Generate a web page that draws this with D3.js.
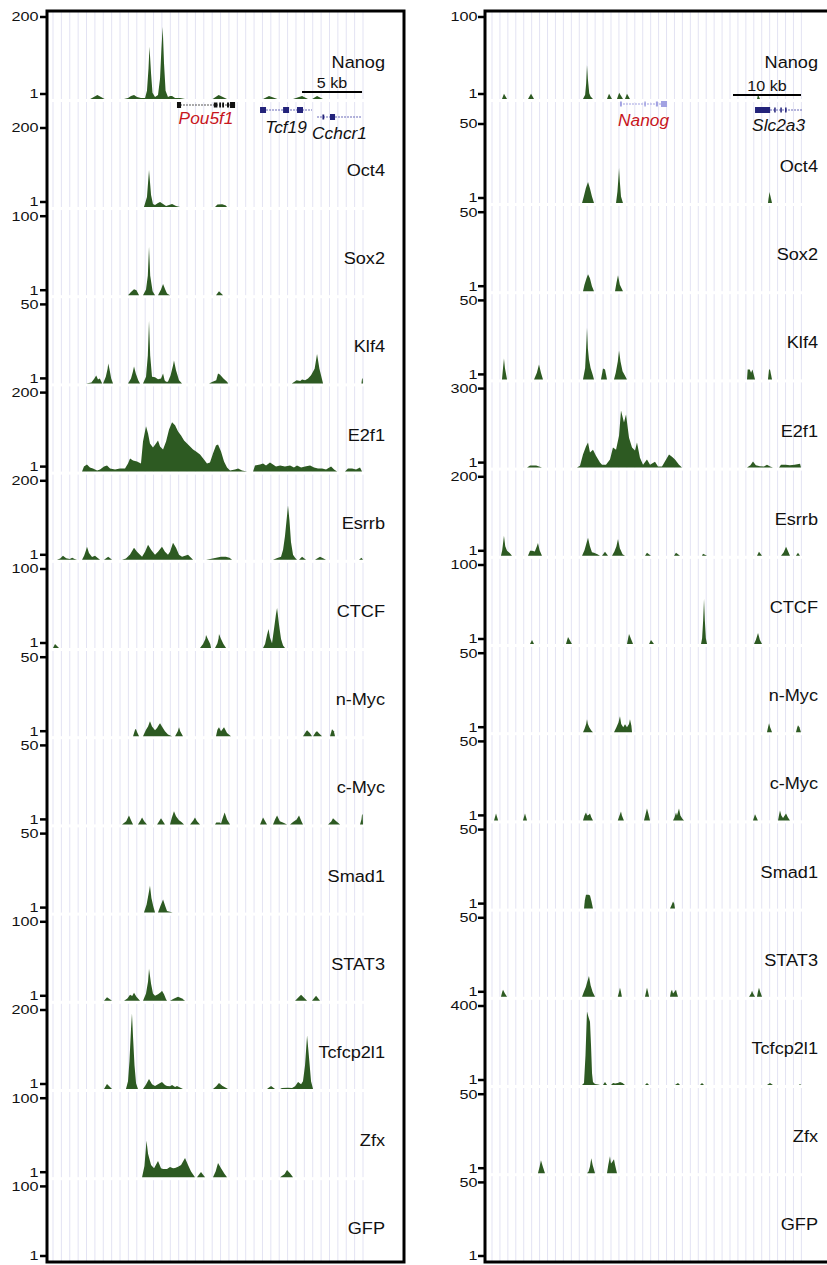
<!DOCTYPE html>
<html><head><meta charset="utf-8">
<script src="https://cdn.jsdelivr.net/npm/d3@7"></script>
<style>
body{margin:0;background:#fff}
svg{display:block}
text{font-family:"Liberation Sans",Arial,Helvetica,sans-serif}
</style>
</head><body>
<svg id="c" width="827" height="1265"></svg>
<script>
// ---------------- DATA ----------------
const trackNames = ["Nanog","Oct4","Sox2","Klf4","E2f1","Esrrb","CTCF","n-Myc","c-Myc","Smad1","STAT3","Tcfcp2l1","Zfx","GFP"];
const leftMax  = [200,200,100,50,200,200,100,50,50,50,100,200,100,100];
const rightMax = [100,50,50,50,300,200,100,50,50,50,50,400,50,50];

// signal segments: [position (kb), read count]
const leftNanog = [
 [[3.1,1],[3.7,11],[4.3,1]],
 [[5.92,1],[6.25,3.5],[6.5,8.5],[6.75,11],[7.0,6],[7.33,3.5],[7.67,3.5],[7.83,21],[7.96,76],[8.04,128],[8.17,63],[8.29,16],[8.5,6],[8.75,11],[8.92,51],[9.04,126],[9.14,176],[9.25,88],[9.38,21],[9.58,6],[9.75,8.5],[9.92,8.5],[10.17,3.5],[10.58,3.5],[11.0,1]],
 [[13.3,1],[13.8,11],[14.5,1]],
 [[17.5,1],[18.0,8],[18.7,1]],
 [[20.0,1],[20.75,8],[21.25,1]],
 [[21.6,1],[22.0,8],[22.5,1]]
];
const leftOct4 = [
 [[7.58,1],[7.83,26],[8.0,93],[8.17,31],[8.33,8.5],[8.5,6],[8.75,11],[8.92,13.5],[9.17,8.5],[9.42,3.5],[9.67,6],[9.92,8.5],[10.25,3.5],[10.58,1]],
 [[13.5,1],[13.7,7],[14.1,8],[14.4,5],[14.5,1]]
];
const leftSox2 = [
 [[6.25,1],[6.5,5],[6.75,8.5],[6.95,7],[7.17,1]],
 [[7.5,1],[7.75,8],[7.9,25],[8.0,61],[8.1,25],[8.3,6],[8.5,1]],
 [[8.75,1],[9.0,8],[9.17,15],[9.35,8],[9.5,3],[9.75,1]],
 [[13.58,1],[13.83,6],[14.17,1]]
];
const leftKlf4 = [
 [[2.75,1],[3.2,1.6],[3.45,4],[3.6,5.9],[3.75,3.4],[3.9,4],[4.1,1]],
 [[4.17,1],[4.4,5],[4.55,10],[4.6,13.2],[4.7,10],[4.85,4],[5.0,1]],
 [[6.25,1],[6.5,4],[6.65,8],[6.75,11.4],[6.9,7],[7.1,3],[7.25,1]],
 [[7.5,1],[7.75,5],[7.9,18],[8.0,39.4],[8.1,18],[8.25,5],[8.5,4.7],[8.75,3.5],[9.0,4],[9.17,7.1],[9.3,3],[9.42,2],[9.58,2],[9.8,6],[10.0,12],[10.08,15],[10.25,9],[10.5,3],[10.75,1]],
 [[13.0,1],[13.3,2],[13.6,3],[13.75,7.1],[13.9,6.5],[14.2,4],[14.5,2],[14.6,1]],
 [[19.9,1],[20.3,3],[20.6,2.5],[20.75,3.4],[21.0,3],[21.25,4],[21.5,6],[21.8,10],[22.0,19],[22.2,10],[22.4,4],[22.5,1]],
 [[25.7,1],[25.75,4],[25.8,4],[25.83,1]]
];
const leftE2f1 = [
 [[2.42,1],[2.58,13.5],[2.83,18.5],[3.08,11],[3.33,8.5],[3.67,3.5],[3.92,6],[4.25,13.5],[4.5,16],[4.75,8.5],[5.17,6],[5.58,8.5],[6.0,8.5],[6.25,21],[6.42,33.5],[6.67,28.5],[7.0,26],[7.33,21],[7.5,76],[7.75,113.5],[7.92,96],[8.08,71],[8.33,61],[8.58,71],[8.75,78.5],[8.92,63.5],[9.17,56],[9.42,76],[9.67,106],[9.92,123.5],[10.17,116],[10.42,101],[10.67,91],[10.92,78.5],[11.17,71],[11.42,63.5],[11.67,56],[11.92,51],[12.25,43.5],[12.58,31],[12.83,21],[13.08,23.5],[13.33,46],[13.58,66],[13.75,68.5],[14.0,51],[14.25,26],[14.5,11],[14.75,3.5],[15.17,6],[15.42,8.5],[15.75,3.5],[16.17,1]],
 [[16.67,1],[16.83,16],[17.25,18.5],[17.5,21],[17.75,16],[18.08,23.5],[18.33,18.5],[18.58,13.5],[18.92,16],[19.33,13.5],[19.75,16],[20.08,11],[20.33,16],[20.67,11],[21.0,13.5],[21.42,16],[21.75,11],[22.08,8.5],[22.42,8.5],[22.75,6],[23.17,13.5],[23.42,6],[23.67,1]],
 [[24.33,1],[24.58,8.5],[24.92,8.5],[25.25,6],[25.58,11],[25.75,1]]
];
const leftEsrrb = [
 [[0.33,1],[0.6,4],[0.83,11],[1.1,5],[1.4,3],[1.6,6],[1.8,3],[2.0,1]],
 [[2.42,1],[2.6,12],[2.75,25],[2.83,33.5],[3.0,18],[3.25,8],[3.5,11],[3.7,6],[3.92,1]],
 [[4.25,1],[4.6,8.5],[4.92,1]],
 [[5.75,1],[6.08,4],[6.42,14],[6.75,31],[7.0,21],[7.42,8.5],[7.67,21],[7.92,38.5],[8.17,26],[8.5,13.5],[8.75,21],[9.08,33.5],[9.33,21],[9.58,13.5],[9.75,21],[10.0,43.5],[10.25,31],[10.5,13.5],[10.75,8.5],[11.0,11],[11.25,13.5],[11.5,6],[11.67,1]],
 [[12.75,1],[13.2,3.5],[13.6,6],[14.0,8.5],[14.4,8.5],[14.7,6],[14.92,1]],
 [[18.33,1],[18.75,6],[19.0,8.5],[19.17,26],[19.33,60],[19.5,111],[19.58,136],[19.7,100],[19.83,45],[20.0,13.5],[20.17,6],[20.33,1]],
 [[20.5,1],[20.75,8.5],[21.08,1]],
 [[21.83,1],[22.25,8.5],[22.75,1]],
 [[25.5,1],[25.7,6],[25.83,1]]
];
const leftCTCF = [
 [[0,1],[0.17,6],[0.5,1]],
 [[12.25,1],[12.5,6],[12.7,12],[12.75,17],[12.9,12],[13.1,6],[13.17,1]],
 [[13.5,1],[13.7,7],[13.8,13],[13.83,18.4],[14.0,12],[14.2,6],[14.42,1]],
 [[17.5,1],[17.67,6],[17.83,17],[17.96,24.6],[18.08,14],[18.25,7],[18.42,25],[18.58,43],[18.67,50.6],[18.83,30],[19.0,12],[19.17,4],[19.33,1]]
];
const leftNMyc = [
 [[6.67,1],[6.85,5.3],[6.92,5.3],[7.0,3.5],[7.17,1]],
 [[7.5,1],[7.75,5],[7.92,7],[8.08,10.2],[8.25,7],[8.5,4.7],[8.67,6],[8.83,8],[8.92,9],[9.08,7],[9.33,4],[9.58,2],[9.92,1]],
 [[10.17,1],[10.4,4],[10.5,6.5],[10.6,4],[10.83,1]],
 [[13.58,1],[13.7,5],[13.83,6.5],[14.0,4],[14.25,6.5],[14.5,3],[14.83,1]],
 [[20.83,1],[21.1,4],[21.17,4.7],[21.4,3],[21.58,1]],
 [[21.67,1],[21.9,3.5],[22.0,4],[22.2,2.5],[22.42,1]],
 [[23.08,1],[23.25,5.3],[23.4,4],[23.5,1]]
];
const leftCMyc = [
 [[5.75,1],[6.1,3],[6.33,6.5],[6.5,3.5],[6.67,1]],
 [[7.08,1],[7.3,3.5],[7.42,5.3],[7.6,3],[7.83,1]],
 [[8.67,1],[8.9,3.5],[9.0,4.7],[9.2,2.5],[9.33,1]],
 [[9.75,1],[9.9,5],[10.08,9],[10.25,6],[10.5,3.5],[10.7,2.5],[10.92,1]],
 [[11.42,1],[11.7,3.5],[11.83,5.3],[12.0,3],[12.25,1]],
 [[13.5,1],[13.6,2.2],[13.9,2.2],[14.0,1.5],[14.1,4],[14.3,8.3],[14.5,4],[14.75,1]],
 [[17.25,1],[17.5,5.3],[17.83,1]],
 [[18.33,1],[18.5,4],[18.67,6.5],[18.9,3],[19.2,2],[19.5,1]],
 [[19.75,1],[20.0,2.5],[20.3,4],[20.5,6.5],[20.7,3],[20.83,1]],
 [[22.92,1],[23.2,3],[23.33,4.7],[23.6,3],[23.92,1]],
 [[25.58,1],[25.7,4],[25.75,7],[25.8,7],[25.83,1]]
];
const leftSmad1 = [
 [[7.58,1],[7.8,6],[7.95,12],[8.08,17.5],[8.2,10],[8.35,5],[8.5,1]],
 [[8.75,1],[8.95,5],[9.17,9],[9.35,5],[9.5,2],[9.97,1]]
];
const leftSTAT3 = [
 [[4.25,1],[4.5,5.3],[4.92,1]],
 [[5.92,1],[6.2,4],[6.42,8.4],[6.6,7],[6.75,10.9],[6.95,6],[7.25,1]],
 [[7.5,1],[7.75,10],[7.92,25],[8.0,40.7],[8.17,22],[8.33,10],[8.5,7.2],[8.75,9],[9.0,12],[9.08,13.4],[9.25,9],[9.42,3],[9.5,1]],
 [[9.75,1],[10.1,4],[10.42,6],[10.75,4],[11.0,1]],
 [[20.17,1],[20.5,6],[20.67,8.4],[20.9,5],[21.17,1]],
 [[21.58,1],[21.92,7.2],[22.25,1]]
];
const leftTcfcp2l1 = [
 [[4.25,1],[4.5,13.4],[4.92,1]],
 [[6.08,1],[6.25,20],[6.37,70],[6.5,150],[6.58,189],[6.67,130],[6.79,60],[6.92,15],[7.08,1]],
 [[7.5,1],[7.75,12],[8.0,25.7],[8.25,13],[8.5,8.4],[8.75,13],[9.08,18.3],[9.33,11],[9.5,8.4],[9.75,8],[9.92,10.9],[10.17,6],[10.33,8.4],[10.58,5],[10.83,1]],
 [[13.33,1],[13.6,8],[13.83,15.8],[14.1,9],[14.4,4],[14.58,1]],
 [[17.83,1],[18.17,8.4],[18.5,1]],
 [[18.92,1],[19.08,3.5],[19.58,4],[19.92,3.5],[20.17,8],[20.42,18.3],[20.67,13],[20.83,20],[21.0,60],[21.17,134],[21.33,80],[21.5,20],[21.67,1]]
];
const leftZfx = [
 [[7.42,1],[7.62,15],[7.79,46],[7.92,30],[8.17,16],[8.42,12],[8.75,21],[9.0,12],[9.17,11],[9.5,11],[9.75,13.5],[10.0,12],[10.17,12.3],[10.42,14],[10.67,16],[11.0,24.8],[11.25,16],[11.5,8],[11.83,1]],
 [[12.0,1],[12.33,7.3],[12.67,1]],
 [[13.33,1],[13.55,8],[13.75,18.5],[14.0,12],[14.3,5],[14.5,1]],
 [[18.92,1],[19.3,5],[19.5,9.8],[19.75,6],[20.0,1]]
];
const leftGFP = [];

const rightNanog = [
 [[1.47,1],[1.76,7.2],[2.21,1]],
 [[5.29,1],[5.74,7.2],[6.18,1]],
 [[13.38,1],[13.7,6],[13.85,20],[13.97,42],[14.1,25],[14.3,8],[14.5,4],[14.85,1]],
 [[16.91,1],[17.21,7.2],[17.65,1]],
 [[18.38,1],[18.7,8.4],[19.26,1]],
 [[19.56,1],[19.85,7.2],[20.29,1]],
 [[38.97,1],[39.12,6],[39.41,1]]
];
const rightOct4 = [
 [[13.24,1],[13.5,5],[13.8,10],[14.12,13.8],[14.4,10],[14.7,5],[15.0,1]],
 [[18.24,1],[18.45,8],[18.6,17],[18.68,22.4],[18.8,14],[18.97,5],[19.26,1]],
 [[40.59,1],[40.8,7.7],[41.18,1]]
];
const rightSox2 = [
 [[13.38,1],[13.6,5],[13.9,9],[14.12,11.4],[14.4,9],[14.7,4],[15.0,1]],
 [[18.09,1],[18.3,6],[18.53,10.8],[18.8,5],[19.26,1]]
];
const rightKlf4 = [
 [[1.47,1],[1.62,8],[1.76,13.8],[1.9,8],[2.21,1]],
 [[6.18,1],[6.6,5],[6.91,10.2],[7.2,5],[7.5,1]],
 [[13.38,1],[13.7,8],[13.9,25],[13.97,32.7],[14.1,20],[14.26,13.2],[14.5,8],[14.8,4],[15.0,1]],
 [[16.03,1],[16.32,7.7],[16.62,7],[16.91,1]],
 [[17.94,1],[18.2,5],[18.5,12],[18.68,18.7],[18.9,12],[19.2,6],[19.6,3],[19.85,1]],
 [[37.5,1],[37.6,7.1],[37.9,7.1],[38.1,5],[38.3,7.1],[38.68,1]],
 [[40.59,1],[40.74,7.1],[40.88,7.1],[41.18,1]]
];
const rightE2f1 = [
 [[5.15,1],[5.6,8.5],[6.5,8.5],[7.35,1]],
 [[12.5,1],[12.94,8],[13.38,50],[13.82,80],[14.12,95],[14.41,57],[14.85,68],[15.29,45],[15.88,20],[16.18,12],[16.76,12],[17.35,31],[17.79,76],[18.24,68],[18.68,120],[18.97,214],[19.41,170],[19.71,199],[20.15,113],[20.59,76],[21.03,65],[21.32,95],[21.76,38],[22.21,12],[22.79,31],[23.24,12],[23.97,23],[24.41,5],[25.0,5],[26.03,50],[26.47,42],[26.91,31],[27.5,12],[27.94,1]],
 [[37.5,1],[38.0,10],[38.38,23.4],[38.8,10],[39.4,6],[40.0,5],[40.44,12],[40.9,5],[41.32,1]],
 [[42.21,1],[42.5,12],[43.2,12],[43.8,10],[44.5,12],[45.3,15],[45.44,1]]
];
const rightEsrrb = [
 [[1.32,1],[1.5,15],[1.76,51],[1.95,25],[2.21,13.5],[2.6,8],[2.94,1]],
 [[5.29,1],[5.6,13.5],[5.9,13.5],[6.3,12],[6.6,25],[6.76,33],[7.0,15],[7.35,1]],
 [[13.24,1],[13.6,15],[13.85,30],[14.12,46],[14.4,25],[14.7,10],[15.0,8.5],[15.5,5],[15.88,1]],
 [[16.18,1],[16.62,11],[17.06,1]],
 [[17.65,1],[18.0,12],[18.3,25],[18.53,43],[18.8,20],[19.2,5],[19.56,1]],
 [[22.5,1],[22.79,8.5],[23.38,1]],
 [[26.76,1],[27.06,8.5],[27.65,1]],
 [[30.88,1],[31.03,6],[31.62,1]],
 [[38.97,1],[39.26,11],[39.71,1]],
 [[42.5,1],[42.9,10],[43.24,23.4],[43.6,10],[43.82,1]],
 [[44.7,1],[45.0,8.5],[45.29,1]]
];
const rightCTCF = [
 [[5.59,1],[5.88,6],[6.18,1]],
 [[10.88,1],[11.18,9.7],[11.76,1]],
 [[19.85,1],[20.15,13.4],[20.74,1]],
 [[23.1,1],[23.38,6],[23.82,1]],
 [[30.74,1],[30.9,8],[31.05,30],[31.18,56.8],[31.3,30],[31.45,8],[31.62,1]],
 [[38.53,1],[38.8,6],[39.12,14.6],[39.4,6],[39.71,1]]
];
const rightNMyc = [
 [[13.38,1],[13.6,3],[13.85,6],[13.97,8.9],[14.1,6],[14.3,4],[14.6,2],[14.85,1]],
 [[17.94,1],[18.3,4],[18.6,7],[18.82,10.8],[19.0,6],[19.3,4],[19.56,5.9],[19.85,4],[20.15,6],[20.29,8.9],[20.5,5],[20.59,1]],
 [[40.44,1],[40.6,4],[40.74,6.5],[40.9,4],[41.18,1]],
 [[44.7,1],[44.9,4],[45.0,5.3],[45.2,4],[45.44,1]]
];
const rightCMyc = [
 [[0.3,1],[0.59,5.3],[0.9,1]],
 [[4.55,1],[4.85,5.3],[5.15,1]],
 [[13.38,1],[13.6,4],[13.82,5.9],[14.0,4],[14.26,4.5],[14.41,5.3],[14.6,3],[14.85,1]],
 [[18.5,1],[18.75,4],[18.97,6.5],[19.1,4],[19.4,1]],
 [[22.35,1],[22.6,5],[22.79,8.3],[23.0,5],[23.24,1]],
 [[26.62,1],[26.85,3],[27.06,5.9],[27.2,4],[27.5,8.3],[27.7,4],[28.0,2],[28.24,1]],
 [[38.38,1],[38.68,4.7],[39.1,1]],
 [[42.06,1],[42.2,4],[42.35,7.1],[42.55,4],[42.8,2.5],[43.24,5.3],[43.5,3],[43.82,1]]
];
const rightSmad1 = [
 [[13.53,1],[13.65,6],[13.82,9.5],[14.2,9.5],[14.41,9],[14.6,6],[14.85,1]],
 [[26.18,1],[26.4,3],[26.62,5.3],[26.8,4],[26.91,1]]
];
const rightSTAT3 = [
 [[1.32,1],[1.5,4],[1.62,5.3],[1.9,3],[2.21,1]],
 [[13.24,1],[13.5,4],[13.8,7],[14.0,10],[14.26,13.8],[14.5,8],[14.8,4],[15.15,1]],
 [[18.5,1],[18.68,4],[18.82,6.5],[18.97,4],[19.1,1]],
 [[22.5,1],[22.65,4],[22.79,6.5],[22.95,4],[23.1,1]],
 [[26.18,1],[26.3,4],[26.47,5.3],[26.62,3],[26.8,4],[27.06,5.3],[27.2,3],[27.35,1]],
 [[37.8,1],[38.1,3],[38.24,4.7],[38.4,3],[38.68,1]],
 [[38.97,1],[39.1,4],[39.26,6.5],[39.45,4],[39.71,1]]
];
const rightTcfcp2l1 = [
 [[13.24,1],[13.53,11],[13.75,150],[13.97,368],[14.19,340],[14.41,316],[14.56,200],[14.71,60],[14.85,16],[15.15,6],[15.59,4],[15.88,1]],
 [[16.32,1],[16.62,16],[16.91,1]],
 [[17.5,1],[17.8,11],[18.1,8],[18.5,11],[18.82,16],[19.2,11],[19.56,1]],
 [[22.5,1],[22.79,11],[23.1,1]],
 [[26.91,1],[27.35,11],[27.65,1]],
 [[30.59,1],[30.88,11],[31.18,1]],
 [[40.44,1],[40.88,11],[41.32,1]],
 [[45.15,1],[45.29,6],[45.44,1]]
];
const rightZfx = [
 [[6.76,1],[7.0,5],[7.2,9],[7.4,6],[7.79,1]],
 [[13.97,1],[14.2,2],[14.4,5],[14.6,10.2],[14.8,6],[15.15,1]],
 [[16.91,1],[17.1,6],[17.35,11.4],[17.5,7],[17.7,8],[17.94,9.5],[18.1,6],[18.38,1]]
];
const rightGFP = [];

const leftSignals  = [leftNanog,leftOct4,leftSox2,leftKlf4,leftE2f1,leftEsrrb,leftCTCF,leftNMyc,leftCMyc,leftSmad1,leftSTAT3,leftTcfcp2l1,leftZfx,leftGFP];
const rightSignals = [rightNanog,rightOct4,rightSox2,rightKlf4,rightE2f1,rightEsrrb,rightCTCF,rightNMyc,rightCMyc,rightSmad1,rightSTAT3,rightTcfcp2l1,rightZfx,rightGFP];

// genes: name, start, end, exons (kb)
const leftGenes = [
 {name:"Pou5f1", start:10.33, end:15.17, exons:[[10.33,10.67],[13.4,13.7],[13.85,14.0],[14.1,14.25],[14.5,14.67],[14.75,15.17]], highlight:true},
 {name:"Tcf19",  start:17.25, end:21.58, exons:[[17.25,17.75],[19.17,19.67],[20.33,20.83]], highlight:false},
 {name:"Cchcr1", start:22.0,  end:25.75, exons:[[22.45,22.6],[23.08,23.5]], highlight:false}
];
const rightGenes = [
 {name:"Nanog",  start:18.82, end:25.74, exons:[[18.82,19.1],[22.4,22.6],[24.1,24.4],[24.85,25.74]], highlight:true},
 {name:"Slc2a3", start:38.68, end:45.6,  exons:[[38.68,40.9],[41.5,41.65],[42.4,42.55],[43.1,43.25]], highlight:false}
];
const leftScaleBar  = {start:20.75, end:25.75, label:"5 kb"};
const rightScaleBar = {start:35.44, end:45.44, label:"10 kb"};

// ---------------- LAYOUT / STYLE ----------------
const FILL = "#2d5a22";
const GRID = "#e3e3f3";
const svg = d3.select("#c");

const panels = [
 {x0:47, x1:404, plotL:53, plotR:363, domain:[0,25.83], base1:207, gridN:38,
  maxes:leftMax, signals:leftSignals, genes:leftGenes, bar:leftScaleBar, barY:92, barTextY:83,
  labelX:385, tickLabelX:38.5,
  geneRows:[{y:105,ly:118,color:"#111",intron:"#555"},{y:110,ly:127,color:"#23237a",intron:"#6a6ab8"},{y:117,ly:133,color:"#23237a",intron:"#6a6ab8"}]},
 {x0:485, x1:900, plotL:492, plotR:801.4, domain:[0,45.5], base1:203, gridN:40,
  maxes:rightMax, signals:rightSignals, genes:rightGenes, bar:rightScaleBar, barY:95, barTextY:86,
  labelX:818, tickLabelX:477.5,
  geneRows:[{y:104,ly:120,color:"#a2a2e2",intron:"#a2a2e2"},{y:110,ly:125,color:"#23237a",intron:"#6a6ab8"}]}
];

function stretchedText(g, x, y, s, size, sx, anchor, opts={}) {
  return g.append("text")
    .attr("transform", `translate(${x},${y}) scale(${sx},1)`)
    .attr("text-anchor", anchor)
    .attr("dy", "0.36em")
    .style("font-size", size + "px")
    .style("font-style", opts.italic ? "italic" : "normal")
    .attr("fill", opts.fill || "#111")
    .text(s);
}

panels.forEach(p => {
  const g = svg.append("g");
  const x = d3.scaleLinear().domain(p.domain).range([p.plotL, p.plotR]);
  const gx = d3.scaleLinear().domain([0, p.gridN - 1]).range([p.plotL, p.plotR]);

  // grid
  g.selectAll("line.grid").data(d3.range(p.gridN)).join("line")
    .attr("class","grid")
    .attr("x1", k => gx(k)).attr("x2", k => gx(k))
    .attr("y1", 12).attr("y2", 1261)
    .attr("stroke", GRID).attr("stroke-width", 1);

  trackNames.forEach((name, i) => {
    const base = i === 0 ? 99 : p.base1 + 88.2 * (i - 1);
    const top = i === 0 ? 17 : base - 80;
    const y = d3.scaleLinear().domain([1, p.maxes[i]]).range([base, top]);

    // white separator under baseline
    g.append("rect").attr("x", p.x0 + 2).attr("width", Math.min(p.x1, 827) - p.x0 - 3)
      .attr("y", base).attr("height", 3).attr("fill", "#fff");

    const area = d3.area().x(d => x(d[0])).y0(y(1)).y1(d => y(d[1]));
    g.selectAll(null).data(p.signals[i]).join("path")
      .attr("d", area).attr("fill", FILL);

    // y ticks
    const ticks = [{v: p.maxes[i], yy: y(p.maxes[i]) + (i === 0 ? 0 : 1)}, {v: 1, yy: Math.min(y(1) - 5, 1256)}];
    ticks.forEach(t => {
      g.append("line").attr("x1", p.x0 - 7).attr("x2", p.x0).attr("y1", t.yy).attr("y2", t.yy)
        .attr("stroke", "#000").attr("stroke-width", 2.5);
      stretchedText(g, p.tickLabelX, t.yy, String(t.v), 12, 1.35, "end");
    });

    // track label
    stretchedText(g, p.labelX, base - 37, name, 16.5, 1.1, "end");
  });

  // genes
  p.genes.forEach((gene, j) => {
    const row = p.geneRows[j];
    g.append("line").attr("x1", x(gene.start)).attr("x2", x(gene.end))
      .attr("y1", row.y).attr("y2", row.y)
      .attr("stroke", row.intron).attr("stroke-width", 1.2).attr("stroke-dasharray", "2,1");
    g.selectAll(null).data(gene.exons).join("rect")
      .attr("x", d => x(d[0])).attr("width", d => Math.max(1.5, x(d[1]) - x(d[0])))
      .attr("y", d => row.y - ((d[1]-d[0]) > 0.3 ? 3 : 2.5))
      .attr("height", d => (d[1]-d[0]) > 0.3 ? 6 : 5)
      .attr("fill", row.color);
    stretchedText(g, x((gene.start + gene.end) / 2), row.ly, gene.name, 16.5, 1.05, "middle",
      {italic: true, fill: gene.highlight ? "#c8161d" : "#111"});
  });

  // scale bar
  g.append("line").attr("x1", x(p.bar.start)).attr("x2", x(p.bar.end))
    .attr("y1", p.barY).attr("y2", p.barY).attr("stroke", "#000").attr("stroke-width", 1.8);
  stretchedText(g, x((p.bar.start + p.bar.end) / 2), p.barTextY, p.bar.label, 14, 1.15, "middle");

  // frame
  g.append("rect").attr("x", p.x0).attr("y", 11).attr("width", p.x1 - p.x0).attr("height", 1251)
    .attr("fill", "none").attr("stroke", "#000").attr("stroke-width", 3);
});
</script>
</body></html>
